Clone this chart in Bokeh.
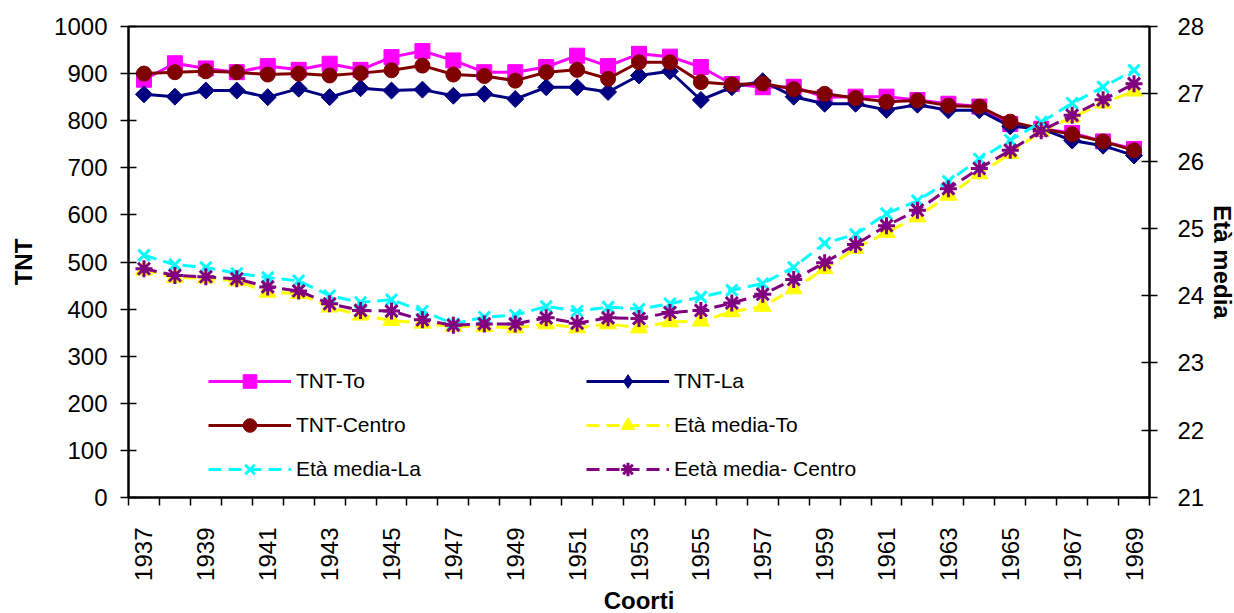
import math
from bokeh.plotting import figure
from bokeh.models import Range1d, LinearAxis, FixedTicker, Legend, LegendItem
from bokeh.embed import file_html
from bokeh.resources import INLINE

years = list(range(1937, 1970))

tnt_to = [887, 922, 911, 903, 916, 908, 921, 908, 935, 948, 928, 903, 903, 914, 938, 916,
          942, 936, 914, 878, 871, 872, 850, 851, 851, 844, 836, 830, 793, 783, 774, 756, 740]
tnt_la = [856, 851, 864, 864, 850, 868, 850, 869, 864, 866, 853, 857, 846, 871, 871, 861,
          896, 905, 844, 871, 884, 851, 836, 836, 823, 834, 822, 822, 788, 783, 758, 747, 726]
tnt_centro = [900, 903, 905, 903, 898, 900, 896, 901, 907, 917, 898, 895, 885, 903, 908, 889,
              924, 924, 882, 877, 879, 867, 857, 848, 840, 843, 832, 830, 798, 783, 771, 756, 737]

eta_to = [24.38, 24.27, 24.26, 24.22, 24.05, 24.03, 23.83, 23.71, 23.63, 23.59, 23.54, 23.54,
          23.52, 23.58, 23.52, 23.58, 23.52, 23.61, 23.62, 23.76, 23.84, 24.10, 24.40, 24.70,
          24.94, 25.17, 25.49, 25.81, 26.11, 26.45, 26.65, 26.86, 27.04]
eta_la = [24.60, 24.46, 24.42, 24.33, 24.27, 24.22, 24.00, 23.90, 23.94, 23.77, 23.58, 23.68,
          23.71, 23.84, 23.77, 23.83, 23.80, 23.88, 23.98, 24.08, 24.18, 24.42, 24.78, 24.91,
          25.22, 25.41, 25.70, 26.03, 26.31, 26.58, 26.86, 27.10, 27.35]
eta_centro = [24.40, 24.30, 24.28, 24.25, 24.13, 24.07, 23.88, 23.78, 23.77, 23.64, 23.56, 23.58,
              23.58, 23.67, 23.59, 23.67, 23.66, 23.75, 23.78, 23.89, 24.02, 24.24, 24.49, 24.76,
              25.04, 25.27, 25.59, 25.89, 26.16, 26.45, 26.68, 26.91, 27.15]

x_tick_labels = years[::2]
left_ticks = list(range(0, 1001, 100))
right_ticks = list(range(21, 29))

FONT = "Liberation Sans"

p = figure(frame_width=1021, frame_height=471,
           min_border_left=128, min_border_top=26, min_border_right=0, min_border_bottom=0,
           x_range=Range1d(years[0] - 0.5, years[-1] + 0.5), y_range=Range1d(0, 1000),
           output_backend="svg", toolbar_location=None, tools="")
p.xgrid.visible = False
p.ygrid.visible = False
p.outline_line_color = "black"
p.outline_line_width = 2
p.background_fill_color = "white"
p.border_fill_color = "white"
p.extra_y_ranges = {"age": Range1d(21, 28)}

# x axis
xa = p.xaxis[0]
xa.ticker = FixedTicker(ticks=x_tick_labels, minor_ticks=[y - 0.5 for y in years] + [years[-1] + 0.5])
xa.major_tick_out = 0
xa.major_tick_in = 0
xa.minor_tick_out = 8
xa.minor_tick_in = 0
xa.minor_tick_line_color = "black"
xa.minor_tick_line_width = 1.5
xa.major_label_orientation = math.pi / 2
xa.major_label_standoff = 22
xa.major_label_overrides = {y: str(y) for y in x_tick_labels}
xa.axis_label = "Coorti"
xa.axis_label_standoff = 3

# left y axis
ya = p.yaxis[0]
ya.ticker = FixedTicker(ticks=left_ticks)
ya.major_tick_in = 8
ya.major_tick_out = 8
ya.major_label_standoff = 13
ya.axis_label = "TNT"
ya.axis_label_standoff = 14

# right y axis
ra = LinearAxis(y_range_name="age", ticker=FixedTicker(ticks=right_ticks), axis_label="Età media")
ra.major_tick_in = 8
ra.major_tick_out = 8
ra.major_label_standoff = 20
ra.axis_label_standoff = 2
p.add_layout(ra, "right")

for ax in [xa, ya, ra]:
    ax.axis_line_color = "black"
    ax.axis_line_width = 2
    ax.major_tick_line_color = "black"
    ax.major_tick_line_width = 1.5
    ax.major_label_text_font = FONT
    ax.major_label_text_font_size = "24px"
    ax.major_label_text_color = "black"
    ax.axis_label_text_font = FONT
    ax.axis_label_text_font_size = "24px"
    ax.axis_label_text_font_style = "bold"
    ax.axis_label_text_color = "black"
ya.minor_tick_out = 0
ya.minor_tick_in = 0
ra.minor_tick_out = 0
ra.minor_tick_in = 0

# series
r_to_l = p.line(years, tnt_to, line_color="#FF00FF", line_width=3)
r_to_m = p.scatter(years, tnt_to, marker="square", size=15, fill_color="#FF00FF", line_color="#FF00FF")
r_la_l = p.line(years, tnt_la, line_color="#000080", line_width=3)
r_la_m = p.scatter(years, tnt_la, marker="square", angle=math.pi / 4, size=12,
                   fill_color="#000080", line_color="#000080")
# legend-only swatch (not drawn in the plot area)
r_la_leg = p.scatter(x=[math.nan], y=[math.nan], marker="diamond",
                     fill_color="#000080", line_color="#000080")
r_ce_l = p.line(years, tnt_centro, line_color="#800000", line_width=3)
r_ce_m = p.scatter(years, tnt_centro, marker="circle", size=15, fill_color="#800000", line_color="#800000")

dash = "13 7"
r_eto_l = p.line(years, eta_to, y_range_name="age", line_color="#FFFF00", line_width=3, line_dash=dash)
r_eto_m = p.scatter(years, eta_to, y_range_name="age", marker="triangle", size=17,
                    fill_color="#FFFF00", line_color="#FFFF00")
r_ela_l = p.line(years, eta_la, y_range_name="age", line_color="#00FFFF", line_width=3, line_dash=dash)
r_ela_m = p.scatter(years, eta_la, y_range_name="age", marker="x", size=16,
                    line_color="#00FFFF", line_width=3)
r_ece_l = p.line(years, eta_centro, y_range_name="age", line_color="#800080", line_width=3, line_dash=dash)
r_ece_m = p.scatter(years, eta_centro, y_range_name="age", marker="asterisk", size=17,
                    line_color="#800080", line_width=3)

def make_legend(items, loc):
    lg = Legend(items=items, location=loc, orientation="vertical")
    lg.border_line_color = None
    lg.background_fill_alpha = 0
    lg.padding = 0
    lg.margin = 0
    lg.spacing = 10
    lg.glyph_width = 83
    lg.glyph_height = 34
    lg.label_height = 34
    lg.label_standoff = 5
    lg.label_text_font = FONT
    lg.label_text_font_size = "21px"
    lg.label_text_color = "black"
    return lg

leg1 = make_legend([
    LegendItem(label="TNT-To", renderers=[r_to_l, r_to_m]),
    LegendItem(label="TNT-Centro", renderers=[r_ce_l, r_ce_m]),
    LegendItem(label="Età media-La", renderers=[r_ela_l, r_ela_m]),
], (80, 11))
leg2 = make_legend([
    LegendItem(label="TNT-La", renderers=[r_la_l, r_la_leg]),
    LegendItem(label="Età media-To", renderers=[r_eto_l, r_eto_m]),
    LegendItem(label="Eetà media- Centro", renderers=[r_ece_l, r_ece_m]),
], (458, 11))
p.add_layout(leg1)
p.add_layout(leg2)

open("out.html", "w").write(file_html(p, INLINE))
